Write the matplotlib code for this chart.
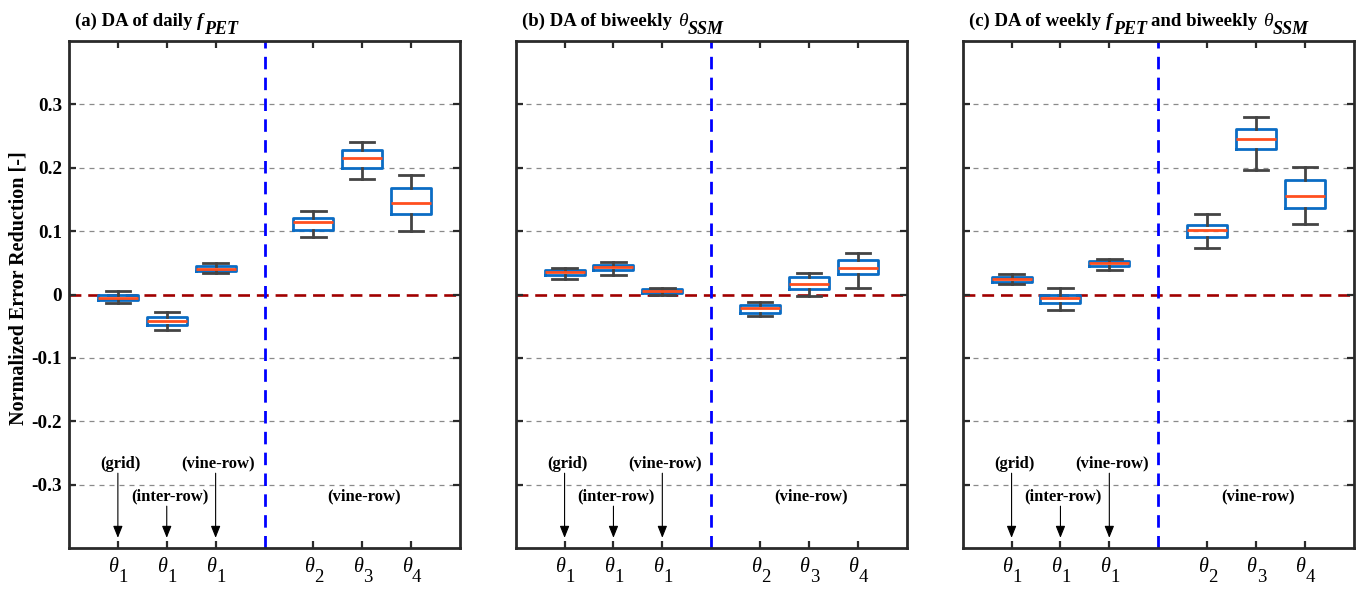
import matplotlib
matplotlib.use("Agg")
import matplotlib.pyplot as plt
from matplotlib.transforms import offset_copy

plt.rcParams.update({
    "font.family": ["Liberation Serif", "DejaVu Serif"],
    "font.weight": "bold",
})

# x positions of the boxes, divider between theta_1 group and deeper layers
positions = [1, 2, 3, 5, 6, 7]
divider_x = 4
tick_symbols = ["θ", "θ", "θ", "θ", "θ", "θ"]
tick_subscripts = ["1", "1", "1", "2", "3", "4"]
yticks = [-0.3, -0.2, -0.1, 0, 0.1, 0.2, 0.3]
ytick_labels = ["-0.3", "-0.2", "-0.1", "0", "0.1", "0.2", "0.3"]
ylabel = "Normalized Error Reduction [-]"

# panel titles as (text, kind) pieces: kind = main / var / sub / greek
titles = [
    [("(a) DA of daily", "main"), ("f", "var"), ("PET", "sub")],
    [("(b) DA of biweekly", "main"), ("θ", "greek"), ("SSM", "sub")],
    [("(c) DA of weekly", "main"), ("f", "var"), ("PET", "sub"),
     ("and biweekly", "main"), ("θ", "greek"), ("SSM", "sub")],
]

# (a) daily fPET
a_low = [-0.014, -0.056, 0.034, 0.091, 0.183, 0.100]
a_q1 = [-0.009, -0.048, 0.037, 0.101, 0.200, 0.127]
a_med = [-0.005, -0.042, 0.041, 0.114, 0.215, 0.144]
a_q3 = [-0.001, -0.035, 0.045, 0.120, 0.228, 0.168]
a_high = [0.005, -0.028, 0.050, 0.131, 0.240, 0.188]

# (b) biweekly theta_SSM
b_low = [0.025, 0.030, 0.000, -0.034, -0.003, 0.010]
b_q1 = [0.030, 0.039, 0.002, -0.029, 0.008, 0.032]
b_med = [0.035, 0.043, 0.005, -0.022, 0.016, 0.042]
b_q3 = [0.039, 0.047, 0.008, -0.016, 0.028, 0.055]
b_high = [0.042, 0.051, 0.010, -0.012, 0.034, 0.066]

# (c) weekly fPET + biweekly theta_SSM
c_low = [0.017, -0.024, 0.039, 0.073, 0.196, 0.112]
c_q1 = [0.020, -0.014, 0.045, 0.090, 0.230, 0.136]
c_med = [0.025, -0.006, 0.050, 0.101, 0.245, 0.156]
c_q3 = [0.028, -0.001, 0.053, 0.109, 0.261, 0.180]
c_high = [0.033, 0.010, 0.056, 0.127, 0.280, 0.201]

panels = [
    (a_low, a_q1, a_med, a_q3, a_high),
    (b_low, b_q1, b_med, b_q3, b_high),
    (c_low, c_q1, c_med, c_q3, c_high),
]

site_labels = ["(grid)", "(inter-row)", "(vine-row)"]
site_label_y = [-0.267, -0.319, -0.267]
arrow_start_y = [-0.282, -0.334, -0.282]
deep_label = "(vine-row)"

BOX_BLUE = "#0b6cc4"
MEDIAN_RED = "#ff4f1f"
WHISKER_GRAY = "#444444"
SPINE = "#2a2a2a"

W, H = 1362, 591
fig = plt.figure(figsize=(W / 100, H / 100), dpi=100)
renderer = fig.canvas.get_renderer()

lefts_px = [69, 515.7, 962.7]
width_px = 391
bottom_px = 43
height_px = 507


def write_pieces(x0, baseline, pieces):
    """Lay out title pieces left to right in figure pixel units."""
    styles = {
        "main": dict(fontsize=13.5, fontstyle="normal", fontweight="bold", dy=0, gap=4),
        "var": dict(fontsize=13.5, fontstyle="italic", fontweight="bold", dy=0, gap=5),
        "greek": dict(fontsize=14, fontstyle="italic", fontweight="normal", dy=0, gap=6),
        "sub": dict(fontsize=13, fontstyle="italic", fontweight="bold", dy=-7.5, gap=0),
    }
    x = x0
    for n, (txt, kind) in enumerate(pieces):
        st = styles[kind]
        if n > 0:
            x += st["gap"]
        t = fig.text(x / W, (baseline + st["dy"]) / H, txt,
                     fontsize=st["fontsize"], fontstyle=st["fontstyle"],
                     fontweight=st["fontweight"], ha="left", va="baseline")
        bb = t.get_window_extent(renderer)
        x = bb.x1


title_x = [75, 521.7, 969.3]

for i, (low, q1, med, q3, high) in enumerate(panels):
    ax = fig.add_axes([lefts_px[i] / W, bottom_px / H, width_px / W, height_px / H])
    stats = [dict(whislo=l, q1=a, med=m, q3=b, whishi=h, fliers=[])
             for l, a, m, b, h in zip(low, q1, med, q3, high)]
    ax.bxp(stats, positions=positions, widths=0.82, capwidths=0.5,
           showfliers=False, manage_ticks=False,
           boxprops=dict(color=BOX_BLUE, linewidth=2.0),
           medianprops=dict(color=MEDIAN_RED, linewidth=2.0),
           whiskerprops=dict(color=WHISKER_GRAY, linewidth=2.0),
           capprops=dict(color=WHISKER_GRAY, linewidth=2.0))

    ax.set_xlim(0, 8)
    ax.set_ylim(-0.4, 0.4)

    # horizontal grid at non-zero ticks
    for yv in yticks:
        if yv != 0:
            ax.axhline(yv, color="#8a8a8a", linewidth=0.9,
                       linestyle=(0, (4, 4)), zorder=0)
    ax.axhline(0, color="#a00000", linewidth=1.9,
               linestyle=(0, (4.5, 2.6)), zorder=1)
    ax.axvline(divider_x, color="#0000ff", linewidth=2.0,
               linestyle=(0, (4.5, 3.0)), zorder=1)

    ax.set_xticks(positions)
    ax.set_xticklabels([])
    ax.set_yticks(yticks)
    if i == 0:
        ax.set_yticklabels(ytick_labels, fontsize=13.8, fontweight="bold")
    else:
        ax.set_yticklabels([])
    ax.tick_params(direction="in", top=True, right=True, length=5,
                   width=1.6, color=SPINE, pad=5)
    for sp in ax.spines.values():
        sp.set_linewidth(2.0)
        sp.set_color(SPINE)

    # x tick labels: italic theta with a full-size lowered index
    xtr = ax.get_xaxis_transform()
    for xp, sym, sub in zip(positions, tick_symbols, tick_subscripts):
        ax.text(xp, 0, sym, transform=offset_copy(xtr, fig=fig, x=-4.5, y=-19, units="dots"),
                ha="center", va="center", fontsize=14.5, fontstyle="italic",
                fontweight="normal", clip_on=False)
        ax.text(xp, 0, sub, transform=offset_copy(xtr, fig=fig, x=5.5, y=-29, units="dots"),
                ha="center", va="center", fontsize=13.5, fontweight="normal",
                clip_on=False)

    write_pieces(title_x[i], H - 26, titles[i])

    # site annotations with arrows pointing to the theta_1 ticks
    for k in range(3):
        ax.text(positions[k] + 0.06, site_label_y[k], site_labels[k],
                ha="center", va="center", fontsize=12, fontweight="bold")
        ax.annotate("", xy=(positions[k], -0.384),
                    xytext=(positions[k], arrow_start_y[k]),
                    arrowprops=dict(arrowstyle="-|>,head_length=0.45,head_width=0.18",
                                    color="black", lw=0.8, mutation_scale=16,
                                    shrinkA=0, shrinkB=0))
    ax.text(6.04, -0.319, deep_label, ha="center", va="center",
            fontsize=12, fontweight="bold")

fig.text(19 / W, (H - 288) / H, ylabel, rotation=90, ha="center",
         va="center", fontsize=14.5, fontweight="bold")

fig.savefig("out.png", dpi=100)
